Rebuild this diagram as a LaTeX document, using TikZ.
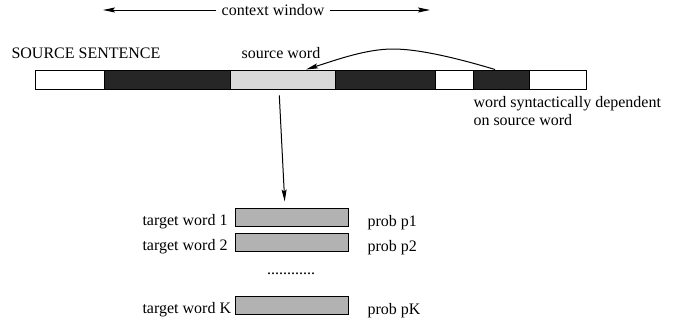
\documentclass[tikz,border=0pt]{standalone}
\usepackage{fontspec}
\setmainfont{Liberation Serif}
\newfontfamily\figfont{Liberation Serif}
\usetikzlibrary{arrows.meta}
\definecolor{darkword}{gray}{0.15}
\definecolor{srcgray}{gray}{0.85}
\definecolor{tgtgray}{gray}{0.70}
\tikzset{
    wordbox/.style={draw, line width=1pt, inner sep=0pt, minimum height=19pt},
    tgtbox/.style={draw, line width=1pt, inner sep=0pt, fill=tgtgray, minimum width=113pt, minimum height=18pt},
    txt/.style={inner sep=0pt}
}

\begin{document}
\begin{tikzpicture}[x=1pt, y=-1pt, line width=1pt, >={Stealth[length=12pt, width=5pt, inset=2pt]},
    font=\figfont\fontsize{16}{18}\selectfont]
    \useasboundingbox (0,0) rectangle (687,324);

    % Context window
    \node[inner sep=5pt] (ctx) at (273,10) {context window};
    \coordinate (cwl) at (103,10);
    \coordinate (cwr) at (430,10);
    \draw[->] (ctx.west) -- (cwl);
    \draw[->] (ctx.east) -- (cwr);

    % Source sentence
    \node[txt] (srclabel) at (86,53) {SOURCE SENTENCE};
    \node[wordbox, fill=white, minimum width=69pt] (s1) at (69.5,79.5) {};
    \node[wordbox, fill=darkword, minimum width=126pt] (s2) at (167,79.5) {};
    \node[wordbox, fill=srcgray, minimum width=105pt] (src) at (282.5,79.5) {};
    \node[wordbox, fill=darkword, minimum width=100pt] (s4) at (385,79.5) {};
    \node[wordbox, fill=white, minimum width=38pt] (s5) at (454,79.5) {};
    \node[wordbox, fill=darkword, minimum width=56pt] (dep) at (501,79.5) {};
    \node[wordbox, fill=white, minimum width=57pt] (s7) at (557.5,79.5) {};

    \node[txt] (srctxt) at (281,53) {source word};
    \node[txt, anchor=north west, align=left] (deptxt) at (473,96)
        {word syntactically dependent\\on source word};

    % Dependency arc
    \draw[->] ([xshift=-6pt]dep.north) .. controls (460,59) and (420,49) .. (393,49)
        .. controls (366,49) and (336,60) .. ([xshift=23.5pt]src.north);

    % Target words
    \node[tgtbox] (t1) at (291.5,217) {};
    \node[tgtbox] (t2) at (291.5,242.5) {};
    \node[tgtbox] (tK) at (291.5,305) {};
    \node[txt, anchor=base west] (t1txt) at (142,225) {target word 1};
    \node[txt, anchor=base west] (t2txt) at (142,250.5) {target word 2};
    \node[txt, anchor=base west] (tKtxt) at (142,313) {target word K};
    \node[txt, anchor=base west] (p1) at (367,226) {prob p1};
    \node[txt, anchor=base west] (p2) at (367,251.5) {prob p2};
    \node[txt, anchor=base west] (pK) at (367,314) {prob pK};
    \node[txt] (dots) at (291,274) {............};

    \draw[->, shorten <=6pt, shorten >=6pt] ([xshift=-3.5pt]src.south) -- ([xshift=-6.5pt]t1.north);
\end{tikzpicture}
\end{document}
